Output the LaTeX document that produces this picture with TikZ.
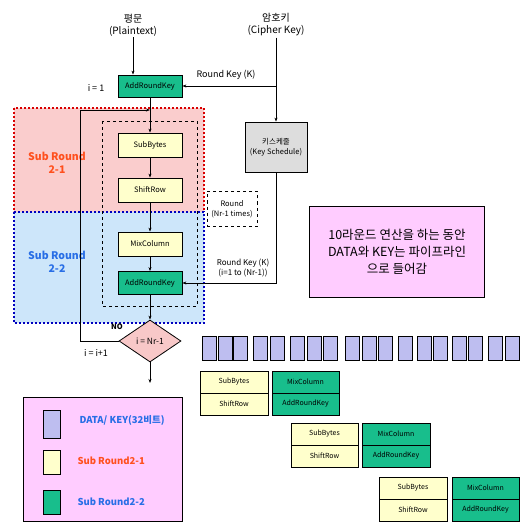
\documentclass[tikz,border=0pt]{standalone}
\usepackage{fontspec}
\setmainfont{Noto Sans CJK KR}
\usetikzlibrary{shapes.geometric,arrows.meta}
\definecolor{grn}{RGB}{24,190,140}
\definecolor{ylw}{RGB}{255,255,204}
\definecolor{lav}{RGB}{190,190,240}
\definecolor{pnk}{RGB}{255,204,255}
\definecolor{gry}{RGB}{221,221,221}
\definecolor{dia}{RGB}{248,200,200}
\definecolor{redreg}{RGB}{250,205,205}
\definecolor{blureg}{RGB}{205,230,250}
\definecolor{redtxt}{RGB}{255,80,30}
\definecolor{blutxt}{RGB}{40,110,230}
\tikzset{
  box/.style={draw, line width=0.8pt, minimum width=64pt, minimum height=24pt, inner sep=0pt, font=\fontsize{7.5}{8.5}\selectfont},
  ybox/.style={box, fill=ylw},
  gbox/.style={box, fill=grn},
  cell/.style={draw, line width=0.9pt, minimum height=22pt, inner sep=0pt, font=\fontsize{7}{8}\selectfont},
  datab/.style={draw, line width=1pt, fill=lav, minimum width=14pt, minimum height=24pt, inner sep=0pt},
  txt/.style={align=center, font=\fontsize{9}{11}\selectfont, inner sep=1pt},
  arr/.style={-{Stealth[length=4pt,width=3pt]}, line width=0.8pt},
  ln/.style={line width=0.8pt}
}
\begin{document}
\begin{tikzpicture}[x=1pt,y=-1pt]
\useasboundingbox (0,0) rectangle (519,529);
% regions
\draw[fill=redreg, draw=red!85!black, line width=2pt, dotted] (14,108) rectangle (204,212);
\draw[fill=blureg, draw=blue!75!black, line width=2pt, dotted] (14,212) rectangle (204,323);
\draw[dashed, line width=0.8pt] (102,121) rectangle (197,306);
\node[font=\bfseries\fontsize{10.5}{13}\selectfont, text=redtxt, align=center] (sr1) at (57,163) {Sub Round\\2-1};
\node[font=\bfseries\fontsize{10.5}{13}\selectfont, text=blutxt, align=center] (sr2) at (57,262) {Sub Round\\2-2};
% top texts
\node[txt, font=\fontsize{10}{12}\selectfont] (pt) at (133,25) {평문\\(Plaintext)};
\node[txt, font=\fontsize{10}{12}\selectfont] (ck) at (276,25) {암호키\\(Cipher Key)};
% boxes
\node[gbox, minimum height=22pt] (ark1) at (150,86) {AddRoundKey};
\node[box, fill=gry, minimum width=62pt, minimum height=50pt, align=center, font=\fontsize{7.5}{10}\selectfont] (ks) at (276,147) {키스케줄\\(Key Schedule)};
\node[ybox] (sb) at (150,145) {SubBytes};
\node[ybox] (sr) at (150,190) {ShiftRow};
\node[ybox] (mc) at (150,244) {MixColumn};
\node[gbox, minimum height=23pt] (ark2) at (150,283) {AddRoundKey};
\node[diamond, draw, line width=0.8pt, fill=dia, minimum width=62pt, minimum height=42pt, inner sep=0pt, font=\fontsize{8.5}{9}\selectfont] (dec) at (150,341) {i = Nr-1};
\node[draw, dashed, line width=0.8pt, minimum width=50pt, minimum height=35pt, inner sep=0pt, align=center, font=\fontsize{7.5}{9.5}\selectfont] (rnd) at (232,209) {Round\\(Nr-1 times)};
% labels
\node[txt] (rk1) at (226,75) {Round Key (K)};
\node[txt] (i1) at (96,88) {i = 1};
\node[txt, font=\bfseries\fontsize{7.5}{8}\selectfont] (no) at (117,327) {NO};
\node[txt] (ii) at (96,353) {i = i+1};
\node[txt, font=\fontsize{8}{10}\selectfont] (rk2) at (243,268) {Round Key (K)\\(i=1 to (Nr-1))};
% connectors
\coordinate (j1) at (ck.south |- ark1.east);
\coordinate (join) at (150,110);
\coordinate (lc) at (80,110);
\coordinate (out) at (150,383);
\draw[arr] (pt.south) -- (pt.south |- ark1.north);
\draw[arr] (ck.south) -- (ks.north);
\draw[arr] (j1) -- (ark1.east);
\draw[arr] (ark1) -- (sb);
\draw[arr] (sb) -- (sr);
\draw[arr] (sr) -- (mc);
\draw[arr] (mc) -- (ark2);
\draw[arr] (ark2) -- (dec);
\draw[arr] (ks.south) |- (ark2.east);
\draw[arr] (dec.west) -| (lc) -- (join);
\draw[arr] (dec.south) -- (out);
% note
\node[draw, line width=0.9pt, fill=pnk, minimum width=175pt, minimum height=91pt, align=center, font=\fontsize{12.5}{17}\selectfont] (note) at (397,252) {10라운드 연산을 하는 동안\\DATA와 KEY는 파이프라인\\으로 들어감};
% data row
\foreach \x [count=\i] in {201.7,217.7,233.3,253.3,270,290,306.7,323.3,345,361.7,378.3,398.3,416.7,433.3,451.7,468.3,488.3,505}
  \node[datab, anchor=north west] (d\i) at (\x,336) {};
% pipeline
\node[cell, fill=ylw, minimum width=68pt] (p1a) at (234,382) {SubBytes};
\node[cell, fill=ylw, minimum width=68pt] (p1b) at (234,404) {ShiftRow};
\node[cell, fill=grn, minimum width=67pt] (p1c) at (305.5,382) {MixColumn};
\node[cell, fill=grn, minimum width=67pt] (p1d) at (305.5,404) {AddRoundKey};
\node[cell, fill=ylw, minimum width=67pt] (p2a) at (324.5,434) {SubBytes};
\node[cell, fill=ylw, minimum width=67pt] (p2b) at (324.5,456) {ShiftRow};
\node[cell, fill=grn, minimum width=68pt] (p2c) at (396,434) {MixColumn};
\node[cell, fill=grn, minimum width=68pt] (p2d) at (396,456) {AddRoundKey};
\node[cell, fill=ylw, minimum width=68pt] (p3a) at (413,488) {SubBytes};
\node[cell, fill=ylw, minimum width=68pt] (p3b) at (413,510) {ShiftRow};
\node[cell, fill=grn, minimum width=67pt] (p3c) at (485.5,488) {MixColumn};
\node[cell, fill=grn, minimum width=67pt] (p3d) at (485.5,510) {AddRoundKey};
% legend
\node[draw, line width=0.9pt, fill=pnk, minimum width=159pt, minimum height=124pt, inner sep=0pt] (leg) at (102.5,459) {};
\node[draw, line width=0.9pt, fill=lav, minimum width=17pt, minimum height=28pt, inner sep=0pt] (l1) at (51.5,424) {};
\node[draw, line width=0.9pt, fill=ylw, minimum width=17pt, minimum height=24pt, inner sep=0pt] (l2) at (51.5,462) {};
\node[draw, line width=0.9pt, fill=grn, minimum width=17pt, minimum height=24pt, inner sep=0pt] (l3) at (51.5,502) {};
\node[anchor=west, font=\bfseries\fontsize{9.5}{11}\selectfont, text=blutxt] (lt1) at (76,420) {DATA/ KEY(32비트)};
\node[anchor=west, font=\bfseries\fontsize{9.5}{11}\selectfont, text=redtxt] (lt2) at (74,461) {Sub Round2-1};
\node[anchor=west, font=\bfseries\fontsize{9.5}{11}\selectfont, text=blutxt] (lt3) at (74,502) {Sub Round2-2};
\end{tikzpicture}
\end{document}
